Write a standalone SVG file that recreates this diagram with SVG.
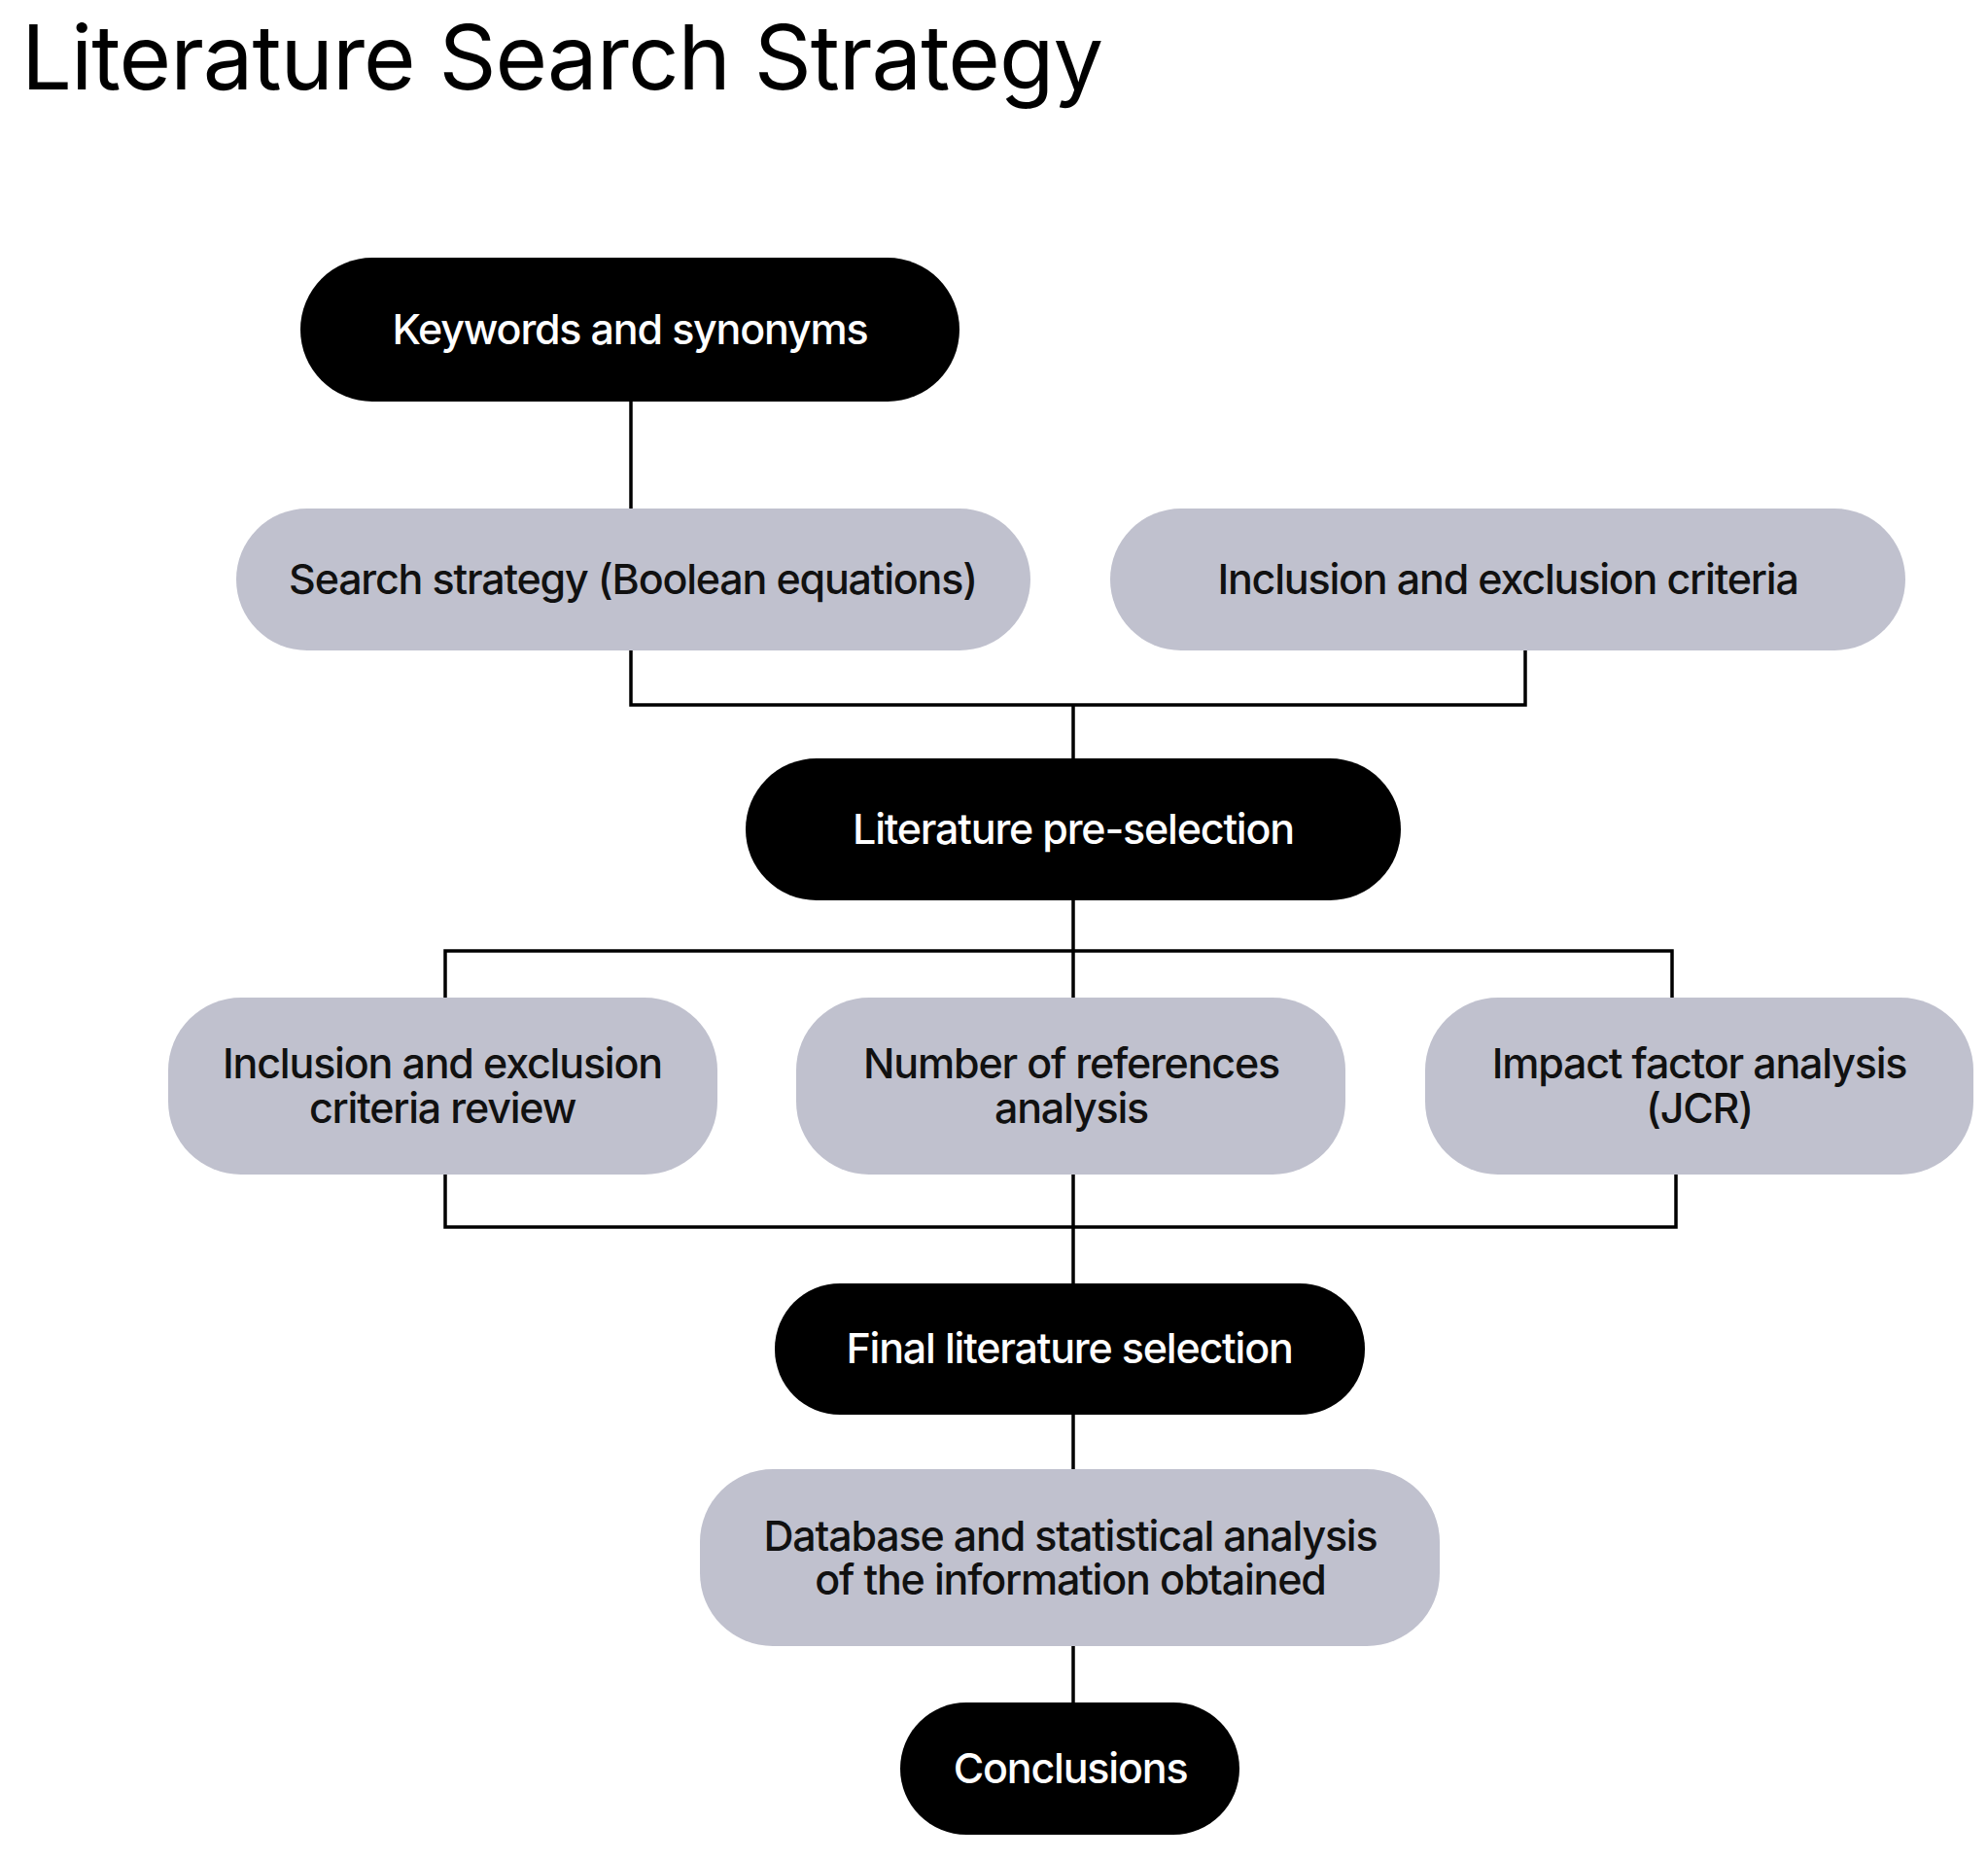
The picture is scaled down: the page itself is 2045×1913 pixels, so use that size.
<svg xmlns="http://www.w3.org/2000/svg" width="2045" height="1913" viewBox="0 0 2045 1913">
<style>
text{font-family:Inter,"Liberation Sans",sans-serif;text-anchor:middle;letter-spacing:-1.2px}
.d rect{fill:#000}.d text{fill:#fff;font-size:43px;font-weight:500}
.l rect{fill:#c0c1ce}.l text{fill:#111;font-size:43px;font-weight:500}
#c path{fill:none;stroke:#000;stroke-width:3.5}
</style>
<rect width="2045" height="1913" fill="#fff"/>
<text x="22" y="92" style="text-anchor:start;font-size:92px;letter-spacing:-1px">Literature Search Strategy</text>
<g id="c">
<path d="M649 413V523M649 669V725H1569V669M1104 725V780M1104 926V1026M458 1026V978H1720V1026M458 1208V1262H1724V1208M1104 1208V1320M1104 1455V1511M1104 1693V1751"/>
</g>
<g id="n1" class="d"><rect x="309" y="265" width="678" height="148" rx="74"/><text x="648" y="354">Keywords and synonyms</text></g>
<g id="n2" class="l"><rect x="243" y="523" width="817" height="146" rx="73"/><text x="651" y="611">Search strategy (Boolean equations)</text></g>
<g id="n3" class="l"><rect x="1142" y="523" width="818" height="146" rx="73"/><text x="1551" y="611">Inclusion and exclusion criteria</text></g>
<g id="n4" class="d"><rect x="767" y="780" width="674" height="146" rx="73"/><text x="1104" y="868">Literature pre-selection</text></g>
<g id="n5" class="l"><rect x="173" y="1026" width="565" height="182" rx="75"/><text x="455" y="1109">Inclusion and exclusion</text><text x="455" y="1155">criteria review</text></g>
<g id="n6" class="l"><rect x="819" y="1026" width="565" height="182" rx="75"/><text x="1102" y="1109">Number of references</text><text x="1102" y="1155">analysis</text></g>
<g id="n7" class="l"><rect x="1466" y="1026" width="564" height="182" rx="75"/><text x="1748" y="1109">Impact factor analysis</text><text x="1748" y="1155">(JCR)</text></g>
<g id="n8" class="d"><rect x="797" y="1320" width="607" height="135" rx="67"/><text x="1100" y="1402">Final literature selection</text></g>
<g id="n9" class="l"><rect x="720" y="1511" width="761" height="182" rx="75"/><text x="1101" y="1595">Database and statistical analysis</text><text x="1101" y="1640">of the information obtained</text></g>
<g id="n10" class="d"><rect x="926" y="1751" width="349" height="136" rx="68"/><text x="1101" y="1834">Conclusions</text></g>
</svg>
